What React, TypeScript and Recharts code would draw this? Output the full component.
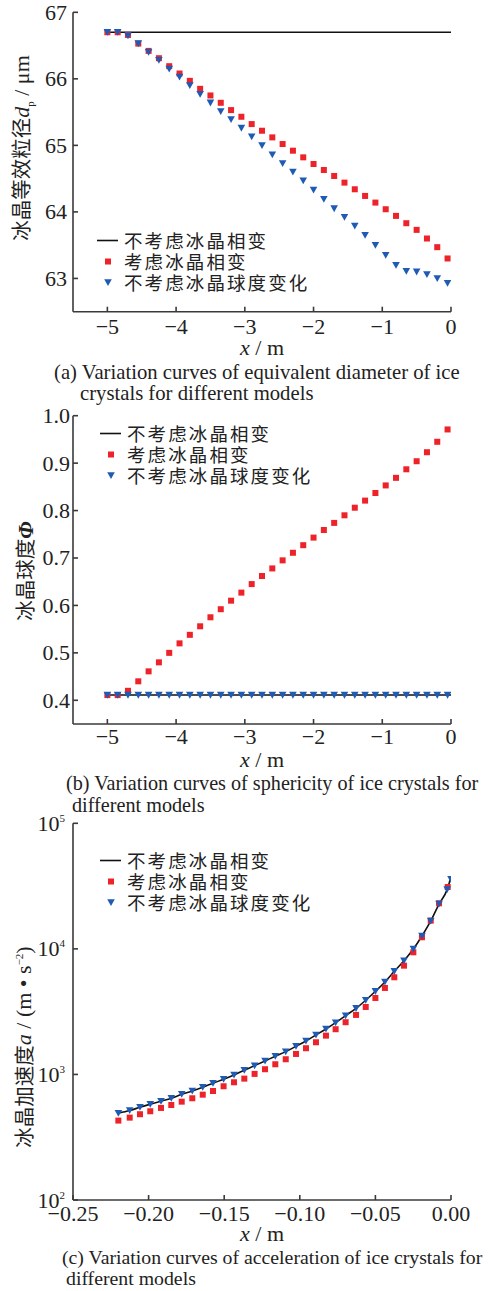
import React from 'react';
import { ComposedChart, Line, Scatter, XAxis, YAxis, Legend } from 'recharts';

const SERIF = '"Liberation Serif", "Times New Roman", serif';
const CJK = '"Noto Sans CJK SC", sans-serif';
const RED = '#ee2229';
const BLUE = '#1f5bb5';
const AXIS = '#3a3a3a';

const legendNames = ['不考虑冰晶相变', '考虑冰晶相变', '不考虑冰晶球度变化'];

// ---------- Panel (a) / (b) shared x positions (m) ----------
const xPos = [-5, -4.85, -4.7, -4.55, -4.4, -4.25, -4.1, -3.95, -3.8, -3.65, -3.5, -3.35, -3.2, -3.05, -2.9, -2.75, -2.6,
  -2.45, -2.3, -2.15, -2.0, -1.85, -1.7, -1.55, -1.4, -1.25, -1.1, -0.95, -0.8, -0.65, -0.5, -0.35, -0.2, -0.05];
const xTicksAB = [-5, -4, -3, -2, -1, 0];

// (a) equivalent diameter, µm
const diamTicks = [63, 64, 65, 66, 67];
const diamLineX = [-5, 0];
const diamLineY = [66.7, 66.7];
const diamRed = [66.70, 66.70, 66.66, 66.53, 66.42, 66.31, 66.19, 66.08, 65.97, 65.85, 65.75, 65.64, 65.53, 65.43, 65.32,
  65.22, 65.12, 65.02, 64.92, 64.82, 64.72, 64.63, 64.54, 64.44, 64.34, 64.24, 64.14, 64.04, 63.94, 63.83, 63.73, 63.60,
  63.47, 63.30];
const diamBlue = [66.70, 66.70, 66.65, 66.53, 66.40, 66.28, 66.15, 66.03, 65.90, 65.77, 65.64, 65.51, 65.39, 65.26, 65.13,
  65.00, 64.86, 64.73, 64.60, 64.47, 64.33, 64.19, 64.05, 63.92, 63.79, 63.65, 63.50, 63.35, 63.20, 63.11, 63.10, 63.06,
  63.00, 62.93];

// (b) sphericity
const sphTicks = [0.4, 0.5, 0.6, 0.7, 0.8, 0.9, 1.0];
const sphLineX = [-5, 0];
const sphLineY = [0.411, 0.411];
const sphRed = [0.411, 0.411, 0.420, 0.440, 0.461, 0.480, 0.500, 0.520, 0.538, 0.556, 0.575, 0.592, 0.610, 0.627, 0.645,
  0.662, 0.678, 0.695, 0.711, 0.727, 0.743, 0.759, 0.774, 0.790, 0.806, 0.821, 0.837, 0.853, 0.869, 0.887, 0.904, 0.923,
  0.945, 0.971];
const sphBlue = [0.411, 0.411, 0.411, 0.411, 0.411, 0.411, 0.411, 0.411, 0.411, 0.411, 0.411, 0.411, 0.411, 0.411, 0.411,
  0.411, 0.411, 0.411, 0.411, 0.411, 0.411, 0.411, 0.411, 0.411, 0.411, 0.411, 0.411, 0.411, 0.411, 0.411, 0.411, 0.411,
  0.411, 0.411];

// (c) acceleration, m/s^2
const accTicksX = [-0.25, -0.2, -0.15, -0.1, -0.05, 0];
const accTicksY = [100, 1000, 10000, 100000];
const accX = [-0.2200, -0.2125, -0.2057, -0.1989, -0.1918, -0.1850, -0.1781, -0.1711, -0.1642, -0.1574, -0.1504, -0.1435,
  -0.1367, -0.1299, -0.1230, -0.1162, -0.1093, -0.1025, -0.0959, -0.0893, -0.0827, -0.0763, -0.0697, -0.0628, -0.0564,
  -0.0500, -0.0437, -0.0375, -0.0311, -0.0249, -0.0192, -0.0134, -0.0079, -0.0022];
const accXBlue = [-0.2200, -0.2125, -0.2057, -0.1989, -0.1918, -0.1850, -0.1781, -0.1711, -0.1642, -0.1574, -0.1504, -0.1435,
  -0.1367, -0.1299, -0.1230, -0.1162, -0.1093, -0.1025, -0.0959, -0.0893, -0.0827, -0.0763, -0.0697, -0.0628, -0.0564,
  -0.0500, -0.0437, -0.0375, -0.0311, -0.0249, -0.0192, -0.0134, -0.0079, -0.0025, 0.0];
const accRed = [429, 453, 482, 509, 541, 571, 607, 646, 690, 738, 805, 866, 926, 1010, 1100, 1205, 1321, 1456, 1617, 1804,
  2037, 2291, 2606, 2979, 3446, 4064, 4883, 5940, 7350, 9390, 12370, 16780, 23080, 31100];
const accBlue = [492, 516, 548, 579, 612, 646, 695, 739, 791, 851, 916, 991, 1080, 1175, 1281, 1396, 1520, 1676, 1848, 2062,
  2302, 2588, 2941, 3363, 3897, 4594, 5449, 6630, 8050, 9980, 12670, 16680, 22760, 29770, 35800];
const accLine = [492, 516, 548, 579, 612, 646, 695, 739, 791, 851, 916, 991, 1080, 1175, 1281, 1396, 1520, 1676, 1848, 2062,
  2302, 2588, 2941, 3363, 3897, 4594, 5449, 6630, 8050, 9980, 12670, 16680, 22760, 29770, 37500];

const zip = (xs: number[], ys: number[]) => xs.map((x, i) => ({ x, y: ys[i] }));

const Square = (p: any) => <rect x={p.cx - 3} y={p.cy - 3} width={6} height={6} fill={RED} />;
const Tri = (p: any) => (
  <path d={`M${p.cx - 3.8},${p.cy - 3.2} L${p.cx + 3.8},${p.cy - 3.2} L${p.cx},${p.cy + 3.6} Z`} fill={BLUE} />
);

const minus = (s: string) => s.replace('-', '\u2212');

const LegendBox = () => (
  <div style={{ fontFamily: CJK, fontSize: 18.5, letterSpacing: '2.1px', lineHeight: '21px', color: '#222', whiteSpace: 'nowrap' }}>
    {legendNames.map((name, i) => (
      <div key={name} style={{ display: 'flex', alignItems: 'center', height: 21, overflow: 'visible' }}>
        <svg width={27} height={21} style={{ display: 'block', flex: 'none' }}>
          {i === 0 && <line x1={0} x2={21} y1={10.5} y2={10.5} stroke="#111" strokeWidth={1.6} />}
          {i === 1 && <rect x={8} y={7.5} width={6} height={6} fill={RED} />}
          {i === 2 && <path d="M7.2,7.3 L14.8,7.3 L11,14 Z" fill={BLUE} />}
        </svg>
        <span style={{ lineHeight: '19px', display: 'inline-block' }}>{name}</span>
      </div>
    ))}
  </div>
);

const TICK_FS = 22;
const xTickFactory = (base: number, fmt: (v: number) => string) => (p: any) => (
  <text x={p.x} y={p.y + base} textAnchor="middle" fontFamily={SERIF} fontSize={TICK_FS} fill="#222">
    {fmt(p.payload.value)}
  </text>
);
const yTickFactory = (gap: number, fmt: (v: number) => string) => (p: any) => (
  <text x={p.x - gap} y={p.y + 7.5} textAnchor="end" fontFamily={SERIF} fontSize={TICK_FS} fill="#222">
    {fmt(p.payload.value)}
  </text>
);
const LogTick = (p: any) => {
  const e = Math.round(Math.log10(p.payload.value));
  return (
    <text x={p.x - 8} y={p.y + 7.5} textAnchor="end" fontFamily={SERIF} fontSize={TICK_FS} fill="#222">
      10<tspan dy={-9} fontSize={11}>{e}</tspan>
    </text>
  );
};

const axisCommon = {
  axisLine: { stroke: AXIS, strokeWidth: 1.6 },
  tickLine: { stroke: AXIS, strokeWidth: 1.6 },
  tickSize: -5,
  tickMargin: 5,
};

const abs = (left: number, top: number, extra: React.CSSProperties = {}): React.CSSProperties => ({
  position: 'absolute', left, top, ...extra,
});

const YLabel = ({ cx, cy, children }: { cx: number; cy: number; children: React.ReactNode }) => (
  <div style={abs(cx, cy, {
    transform: 'translate(-50%, -50%) rotate(-90deg)', whiteSpace: 'nowrap', fontSize: 20.5, color: '#222',
    fontFamily: CJK, lineHeight: '24px',
  })}>{children}</div>
);

const Caption = ({ x, y, fs = 20.7, children }: { x: number; y: number; fs?: number; children: React.ReactNode }) => (
  <div style={abs(x, y - 11, { fontFamily: SERIF, fontSize: fs, lineHeight: '22px', color: '#222', whiteSpace: 'nowrap' })}>
    {children}
  </div>
);

const XLabel = ({ y }: { y: number }) => (
  <div style={abs(262, y - 9, { transform: 'translateX(-50%)', fontFamily: SERIF, fontSize: 22, lineHeight: '18px', color: '#222', whiteSpace: 'nowrap' })}>
    <i>x</i> / m
  </div>
);

export default function App() {
  return (
    <div style={{ position: 'absolute', left: 0, top: 0, width: 491, height: 1291, background: '#fff', overflow: 'hidden' }}>
      {/* Panel (a) */}
      <div style={abs(0, 0)}>
        <ComposedChart width={491} height={390} margin={{ top: 12.3, right: 40, left: 10, bottom: 48.3 }}>
          <XAxis type="number" dataKey="x" domain={[-5.5, 0]} ticks={xTicksAB} allowDataOverflow height={30}
            tick={xTickFactory(22, (v) => minus(String(v)))} {...axisCommon} />
          <YAxis type="number" domain={[62.5, 67]} ticks={diamTicks} allowDataOverflow width={63}
            tick={yTickFactory(6, (v) => String(v))} {...axisCommon} />
          <Line data={zip(diamLineX, diamLineY)} dataKey="y" type="linear" stroke="#111" strokeWidth={1.6} dot={false}
            isAnimationActive={false} />
          <Scatter data={zip(xPos, diamRed)} dataKey="y" shape={Square} isAnimationActive={false} />
          <Scatter data={zip(xPos, diamBlue)} dataKey="y" shape={Tri} isAnimationActive={false} />
          <Legend layout="vertical" align="center" verticalAlign="middle" content={<LegendBox />}
            wrapperStyle={{ top: 229.5, left: 97, width: 'auto' }} />
        </ComposedChart>
      </div>
      <YLabel cx={25} cy={148}>
        冰晶等效粒径<span style={{ fontFamily: SERIF, fontSize: 22 }}><i>d</i><sub style={{ fontSize: 11 }}>p</sub> / μm</span>
      </YLabel>
      <XLabel y={348} />
      <Caption x={54} y={372}>(a) Variation curves of equivalent diameter of ice</Caption>
      <Caption x={80} y={393}>crystals for different models</Caption>

      {/* Panel (b) */}
      <div style={abs(0, 400)}>
        <ComposedChart width={491} height={380} margin={{ top: 15.7, right: 40, left: 10, bottom: 26 }}>
          <XAxis type="number" dataKey="x" domain={[-5.5, 0]} ticks={xTicksAB} allowDataOverflow height={30}
            tick={xTickFactory(19.7, (v) => minus(String(v)))} {...axisCommon} />
          <YAxis type="number" domain={[0.35, 1.0]} ticks={sphTicks} allowDataOverflow width={63}
            tick={yTickFactory(3, (v) => v.toFixed(1))} {...axisCommon} />
          <Line data={zip(sphLineX, sphLineY)} dataKey="y" type="linear" stroke="#111" strokeWidth={1.6} dot={false}
            isAnimationActive={false} />
          <Scatter data={zip(xPos, sphRed)} dataKey="y" shape={Square} isAnimationActive={false} />
          <Scatter data={zip(xPos, sphBlue)} dataKey="y" shape={Tri} isAnimationActive={false} />
          <Legend layout="vertical" align="center" verticalAlign="middle" content={<LegendBox />}
            wrapperStyle={{ top: 22.8, left: 100, width: 'auto' }} />
        </ComposedChart>
      </div>
      <YLabel cx={25} cy={571}>
        冰晶球度<span style={{ fontFamily: SERIF, fontSize: 22 }}><b><i>Φ</i></b></span>
      </YLabel>
      <XLabel y={760} />
      <Caption x={66} y={783} fs={20.2}>(b) Variation curves of sphericity of ice crystals for</Caption>
      <Caption x={72} y={805} fs={20.2}>different models</Caption>

      {/* Panel (c) */}
      <div style={abs(0, 800)}>
        <ComposedChart width={491} height={440} margin={{ top: 23.3, right: 40, left: 10, bottom: 10 }}>
          <XAxis type="number" dataKey="x" domain={[-0.25, 0]} ticks={accTicksX} allowDataOverflow height={30}
            tick={xTickFactory(21, (v) => minus(v.toFixed(2)))} {...axisCommon} />
          <YAxis type="number" scale="log" domain={[100, 100000]} ticks={accTicksY} allowDataOverflow width={63}
            tick={LogTick} {...axisCommon} />
          <Scatter data={zip(accX, accRed)} dataKey="y" shape={Square} isAnimationActive={false} />
          <Scatter data={zip(accXBlue, accBlue)} dataKey="y" shape={Tri} isAnimationActive={false} />
          <Line data={zip(accXBlue, accLine)} dataKey="y" type="monotone" stroke="#111" strokeWidth={1.6} dot={false}
            isAnimationActive={false} />
          <Legend layout="vertical" align="center" verticalAlign="middle" content={<LegendBox />}
            wrapperStyle={{ top: 49.5, left: 100, width: 'auto' }} />
        </ComposedChart>
      </div>
      <YLabel cx={22} cy={1047}>
        冰晶加速度<span style={{ fontFamily: SERIF, fontSize: 22 }}><i>a</i> / (m • s<sup style={{ fontSize: 11 }}>−2</sup>)</span>
      </YLabel>
      <XLabel y={1234} />
      <Caption x={62} y={1257} fs={19.8}>(c) Variation curves of acceleration of ice crystals for</Caption>
      <Caption x={66} y={1278} fs={19.8}>different models</Caption>
    </div>
  );
}
